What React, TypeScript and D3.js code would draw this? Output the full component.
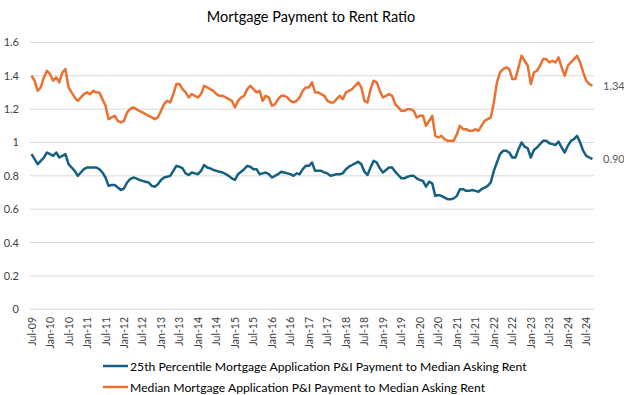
import * as d3 from "d3";

// monthly, Jul-09 through Sep-24
const months: string[] = d3
  .timeMonths(new Date(2009, 6, 1), new Date(2024, 9, 1))
  .map((d) => d3.timeFormat("%b-%y")(d));

const medianRatio = [
  1.40, 1.37, 1.31, 1.33, 1.39, 1.43, 1.41, 1.37, 1.39, 1.36, 1.42, 1.44,
  1.33, 1.30, 1.27, 1.25, 1.27, 1.29, 1.30, 1.29, 1.31, 1.30, 1.30, 1.26,
  1.22, 1.14, 1.15, 1.16, 1.13, 1.12, 1.13, 1.18, 1.20, 1.21, 1.20, 1.19,
  1.18, 1.17, 1.16, 1.15, 1.14, 1.15, 1.19, 1.23, 1.25, 1.24, 1.29, 1.35,
  1.35, 1.32, 1.30, 1.27, 1.29, 1.28, 1.27, 1.29, 1.34, 1.33, 1.32, 1.31,
  1.29, 1.28, 1.28, 1.27, 1.26, 1.25, 1.21, 1.25, 1.27, 1.28, 1.32, 1.34,
  1.32, 1.30, 1.31, 1.25, 1.28, 1.27, 1.22, 1.23, 1.26, 1.28, 1.28, 1.27,
  1.25, 1.24, 1.25, 1.27, 1.31, 1.33, 1.33, 1.36, 1.30, 1.30, 1.29, 1.28,
  1.25, 1.24, 1.24, 1.26, 1.28, 1.26, 1.30, 1.31, 1.32, 1.34, 1.36, 1.33,
  1.25, 1.24, 1.32, 1.37, 1.36, 1.31, 1.27, 1.28, 1.29, 1.28, 1.23, 1.21,
  1.19, 1.19, 1.20, 1.20, 1.19, 1.15, 1.16, 1.16, 1.10, 1.13, 1.16, 1.04,
  1.03, 1.04, 1.02, 1.01, 1.01, 1.01, 1.05, 1.10, 1.08, 1.08, 1.07, 1.07,
  1.08, 1.07, 1.10, 1.13, 1.14, 1.15, 1.24, 1.36, 1.42, 1.44, 1.45, 1.44,
  1.38, 1.38, 1.45, 1.52, 1.49, 1.46, 1.35, 1.42, 1.43, 1.46, 1.50, 1.50,
  1.48, 1.49, 1.48, 1.51, 1.45, 1.40, 1.46, 1.48, 1.50, 1.52, 1.48, 1.42,
  1.37, 1.35, 1.34,
];

const p25Ratio = [
  0.93, 0.90, 0.87, 0.89, 0.91, 0.94, 0.93, 0.92, 0.94, 0.91, 0.92, 0.93,
  0.87, 0.85, 0.83, 0.80, 0.82, 0.84, 0.85, 0.85, 0.85, 0.85, 0.84, 0.82,
  0.79, 0.74, 0.745, 0.745, 0.73, 0.715, 0.725, 0.76, 0.78, 0.79, 0.785, 0.775,
  0.77, 0.765, 0.76, 0.74, 0.735, 0.75, 0.775, 0.79, 0.795, 0.80, 0.83, 0.86,
  0.855, 0.845, 0.815, 0.805, 0.82, 0.815, 0.81, 0.83, 0.865, 0.85, 0.845, 0.835,
  0.83, 0.825, 0.82, 0.81, 0.80, 0.785, 0.775, 0.81, 0.825, 0.84, 0.86, 0.855,
  0.84, 0.84, 0.81, 0.815, 0.82, 0.81, 0.79, 0.80, 0.81, 0.825, 0.82, 0.815,
  0.81, 0.80, 0.815, 0.81, 0.84, 0.86, 0.86, 0.88, 0.83, 0.83, 0.83, 0.82,
  0.815, 0.80, 0.805, 0.81, 0.81, 0.815, 0.84, 0.855, 0.865, 0.875, 0.885, 0.87,
  0.825, 0.805, 0.85, 0.89, 0.88, 0.845, 0.82, 0.835, 0.85, 0.85, 0.825, 0.805,
  0.785, 0.785, 0.795, 0.80, 0.80, 0.785, 0.775, 0.77, 0.735, 0.765, 0.755, 0.68,
  0.685, 0.68, 0.67, 0.66, 0.66, 0.665, 0.68, 0.72, 0.72, 0.71, 0.71, 0.715,
  0.71, 0.705, 0.72, 0.73, 0.74, 0.76, 0.83, 0.88, 0.93, 0.95, 0.95, 0.94,
  0.91, 0.91, 0.96, 1.00, 0.975, 0.965, 0.91, 0.955, 0.97, 0.99, 1.01, 1.01,
  0.995, 0.99, 0.985, 1.005, 0.97, 0.94, 0.98, 1.01, 1.02, 1.04, 1.00, 0.95,
  0.92, 0.91, 0.90,
];

const yTicks = [0, 0.2, 0.4, 0.6, 0.8, 1, 1.2, 1.4, 1.6];
const tickLabels = months.filter((_, i) => i % 6 === 0);

const seriesNames = [
  "25th Percentile Mortgage Application P&I Payment to Median Asking Rent",
  "Median Mortgage Application P&I Payment to Median Asking Rent",
];

const BLUE = "#156082";
const ORANGE = "#E97132";
const FONT = "Lato, 'Noto Sans', sans-serif";

export default function App() {
  const width = 624;
  const height = 395;

  const x = d3.scaleBand<string>().domain(months).range([30, 594]);
  const y = d3.scaleLinear().domain([0, 1.6]).range([309.3, 42.4]);
  const cx = (m: string) => (x(m) ?? 0) + x.bandwidth() / 2;

  const line = d3
    .line<number>()
    .x((_, i) => cx(months[i]))
    .y((d) => y(d));

  const series = [
    { name: seriesNames[0], values: p25Ratio, color: BLUE },
    { name: seriesNames[1], values: medianRatio, color: ORANGE },
  ];

  const fmt = (v: number) => String(+v.toFixed(1));

  return (
    <div style={{ position: "fixed", left: 0, top: 0, background: "#fff" }}>
      <svg width={width} height={height} fontFamily={FONT}>
        <text x={311} y={22} textAnchor="middle" fontSize={14.5} fill="#000">
          Mortgage Payment to Rent Ratio
        </text>

        {yTicks.map((t) => (
          <g key={t}>
            <line x1={30} x2={594} y1={y(t)} y2={y(t)} stroke="#d9d9d9" strokeWidth={1} />
            <text x={19} y={y(t) + 4} textAnchor="end" fontSize={11} fill="#404040">
              {t === 0 ? "0" : fmt(t)}
            </text>
          </g>
        ))}

        {tickLabels.map((m) => (
          <text
            key={m}
            transform={`translate(${cx(m) + 4},${317}) rotate(-90)`}
            textAnchor="end"
            fontSize={10.5}
            fill="#404040"
          >
            {m}
          </text>
        ))}

        {series.map((s) => (
          <path
            key={s.name}
            d={line(s.values) ?? ""}
            fill="none"
            stroke={s.color}
            strokeWidth={2.5}
            strokeLinejoin="round"
          />
        ))}

        {series.map((s) => {
          const last = s.values[s.values.length - 1];
          return (
            <text key={s.name + "-end"} x={603} y={y(last) + 4} fontSize={11} fill="#595959">
              {last.toFixed(2)}
            </text>
          );
        })}

        {series.map((s, i) => (
          <g key={s.name + "-leg"} transform={`translate(103,${366 + i * 21})`}>
            <line x1={0} x2={25} y1={0} y2={0} stroke={s.color} strokeWidth={2.5} />
            <text x={27} y={4.5} fontSize={12.2} fill="#000">
              {s.name}
            </text>
          </g>
        ))}
      </svg>
    </div>
  );
}
